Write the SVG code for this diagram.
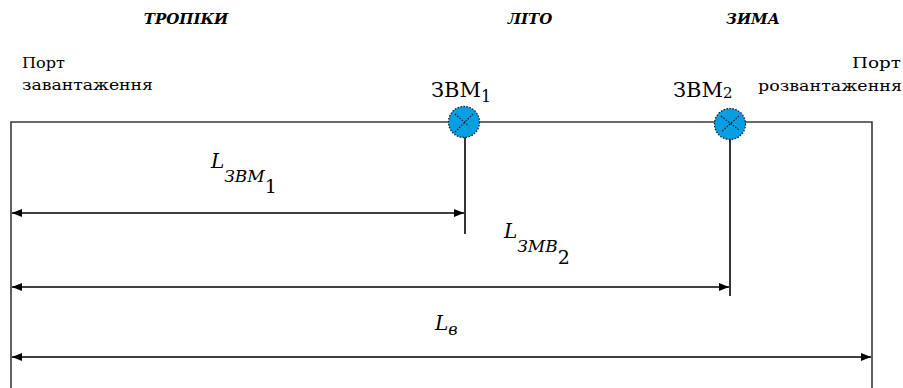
<svg xmlns="http://www.w3.org/2000/svg" width="903" height="388" viewBox="0 0 903 388">
<style>
text{font-family:'DejaVu Serif','Liberation Serif',serif;fill:#000}
.h{font-size:15px;font-weight:bold;font-style:italic}
.p{font-size:15px}
.z{font-size:21px}
.i{font-style:italic}
.frame{stroke:#3a3a3a;stroke-width:1.6;fill:none}
.dim{stroke:#000;stroke-width:1.6;fill:none}
.node{fill:#079fe4;stroke:#1a1a1a;stroke-width:1.3;stroke-dasharray:1.5 1.5}
.x{stroke:#1a1a1a;stroke-width:1.2;stroke-dasharray:1.5 1.5;fill:none}
</style>
<defs>
<marker id="ah" viewBox="0 0 10 10" refX="10" refY="5" markerWidth="10" markerHeight="10" markerUnits="userSpaceOnUse" orient="auto-start-reverse">
<path d="M0,1 L10,5 L0,9 Z" fill="#000"/>
</marker>
</defs>
<g id="labels">
<text class="h" x="186" y="24" text-anchor="middle">ТРОПІКИ</text>
<text class="h" x="530" y="24" text-anchor="middle">ЛІТО</text>
<text class="h" x="753" y="24" text-anchor="middle">ЗИМА</text>
</g>
<g id="port-load">
<text class="p" x="22" y="68" textLength="43" lengthAdjust="spacingAndGlyphs">Порт</text>
<text class="p" x="22" y="90" textLength="131" lengthAdjust="spacingAndGlyphs">завантаження</text>
</g>
<g id="port-unload">
<text class="p" x="852" y="68" textLength="49" lengthAdjust="spacingAndGlyphs">Порт</text>
<text class="p" x="758" y="91" textLength="144" lengthAdjust="spacingAndGlyphs">розвантаження</text>
</g>
<g id="connectors">
<path class="frame" d="M11,388 V122 H872 V388"/>
<line class="dim" x1="465" y1="137" x2="465" y2="234"/>
<line class="dim" x1="730" y1="139" x2="730" y2="296"/>
<line class="dim" x1="12" y1="213" x2="464" y2="213" marker-start="url(#ah)" marker-end="url(#ah)"/>
<line class="dim" x1="12" y1="287" x2="729" y2="287" marker-start="url(#ah)" marker-end="url(#ah)"/>
<line class="dim" x1="12" y1="357" x2="871" y2="357" marker-start="url(#ah)" marker-end="url(#ah)"/>
</g>
<g id="zvm1">
<circle class="node" cx="464" cy="122" r="15.5"/>
<path class="x" d="M455,114 L469,126 M473,114 L455,132"/>
<text class="z" x="431" y="97">ЗВМ<tspan font-size="16" dy="5">1</tspan></text>
</g>
<g id="zvm2">
<circle class="node" cx="730" cy="124" r="15.5"/>
<path class="x" d="M721,116 L739,130 M739,116 L721,132"/>
<text class="z" x="673" y="97">ЗВМ<tspan font-size="15" dy="1">2</tspan></text>
</g>
<g id="dim-labels">
<text x="211" y="168" font-size="20"><tspan class="i">L</tspan><tspan class="i" font-size="17" dy="14">ЗВМ</tspan><tspan font-size="19" dy="11">1</tspan></text>
<text x="504" y="238" font-size="20"><tspan class="i">L</tspan><tspan class="i" font-size="17" dy="14">ЗМВ</tspan><tspan font-size="19" dy="12">2</tspan></text>
<text x="435" y="330" font-size="20"><tspan class="i">L</tspan><tspan class="i" font-size="16" dy="5">в</tspan></text>
</g>
</svg>
